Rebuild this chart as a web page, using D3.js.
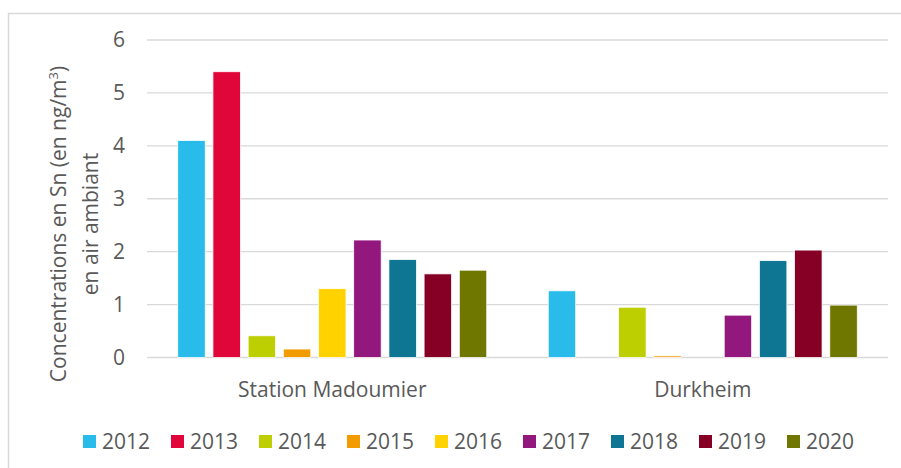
<!DOCTYPE html>
<html>
<head>
<meta charset="utf-8">
<script src="https://cdn.jsdelivr.net/npm/d3@7"></script>
<style>
  body { margin: 0; background: #fff; }
  svg { display: block; font-family: "Open Sans", "Noto Sans", sans-serif; }
</style>
</head>
<body>
<svg id="chart"></svg>
<script>
const stations = ["Station Madoumier", "Durkheim"];
const years = ["2012", "2013", "2014", "2015", "2016", "2017", "2018", "2019", "2020"];
const madoumier = [4.1, 5.4, 0.41, 0.16, 1.3, 2.22, 1.85, 1.58, 1.65];
const durkheim = [1.26, null, 0.95, 0.03, null, 0.8, 1.83, 2.03, 0.99];
const yearColors = ["#29bcea", "#e1063a", "#bdcf00", "#f39c00", "#ffd200", "#93187e", "#0e7592", "#850024", "#6f7700"];
const yTicks = [0, 1, 2, 3, 4, 5, 6];

const width = 901;
const height = 468;
const margin = { top: 40, right: 13, bottom: 110.5, left: 147 };
const fontSize = 21;

const svg = d3.select("#chart")
  .attr("width", width)
  .attr("height", height);

// chart frame (only left and top edges fall inside the picture)
svg.append("path")
  .attr("d", `M8.5,${height} V13.5 H${width}`)
  .attr("fill", "none")
  .attr("stroke", "#d9d9d9")
  .attr("stroke-width", 1.5);

const x0 = d3.scaleBand()
  .domain(stations)
  .range([margin.left, width - margin.right]);

const x1 = d3.scaleBand()
  .domain(years)
  .range([30.75, x0.bandwidth() - 30.75])
  .paddingInner(0.22);

const y = d3.scaleLinear()
  .domain([0, 6])
  .range([height - margin.bottom, margin.top]);

const rows = [madoumier, durkheim].map((vals, i) => ({
  station: stations[i],
  values: years.map((yr, j) => ({ year: yr, value: vals[j], color: yearColors[j] }))
}));

// gridlines
svg.append("g")
  .selectAll("line")
  .data(yTicks)
  .join("line")
  .attr("x1", margin.left)
  .attr("x2", width - margin.right)
  .attr("y1", d => y(d))
  .attr("y2", d => y(d))
  .attr("stroke", "#d9d9d9")
  .attr("stroke-width", 1.3);

// y tick labels
svg.append("g")
  .selectAll("text")
  .data(yTicks)
  .join("text")
  .attr("x", 125)
  .attr("y", d => y(d))
  .attr("dy", "0.35em")
  .attr("text-anchor", "end")
  .attr("font-size", fontSize)
  .attr("fill", "#595959")
  .text(d => d);

// bars
const groups = svg.append("g")
  .selectAll("g")
  .data(rows)
  .join("g")
  .attr("transform", d => `translate(${x0(d.station)},0)`);

groups.selectAll("rect")
  .data(d => d.values.filter(v => v.value != null))
  .join("rect")
  .attr("x", d => x1(d.year))
  .attr("width", x1.bandwidth())
  .attr("y", d => y(d.value))
  .attr("height", d => y(0) - y(d.value))
  .attr("fill", d => d.color)
  .attr("stroke", "#fff")
  .attr("stroke-width", 0.75);

// category labels
svg.append("g")
  .selectAll("text")
  .data(stations)
  .join("text")
  .attr("x", d => x0(d) + x0.bandwidth() / 2)
  .attr("y", 397)
  .attr("text-anchor", "middle")
  .attr("font-size", fontSize)
  .attr("fill", "#595959")
  .text(d => d);

// y axis title
const title = svg.append("text")
  .attr("transform", "translate(0,224) rotate(-90)")
  .attr("text-anchor", "middle")
  .attr("font-size", fontSize)
  .attr("fill", "#595959");
const line1 = title.append("tspan").attr("x", 0).attr("y", 66);
line1.append("tspan").text("Concentrations en Sn (en ng/m");
line1.append("tspan").attr("font-size", 13).attr("dy", -8).text("3");
line1.append("tspan").attr("dy", 8).text(")");
title.append("tspan").attr("x", 0).attr("y", 98).text("en air ambiant");

// legend
const legend = svg.append("g")
  .selectAll("g")
  .data(years)
  .join("g")
  .attr("transform", (d, i) => `translate(${83 + i * 88},435)`);

legend.append("rect")
  .attr("width", 13)
  .attr("height", 13)
  .attr("fill", (d, i) => yearColors[i]);

legend.append("text")
  .attr("x", 19)
  .attr("y", 13.5)
  .attr("font-size", fontSize)
  .attr("fill", "#595959")
  .text(d => d);
</script>
</body>
</html>
